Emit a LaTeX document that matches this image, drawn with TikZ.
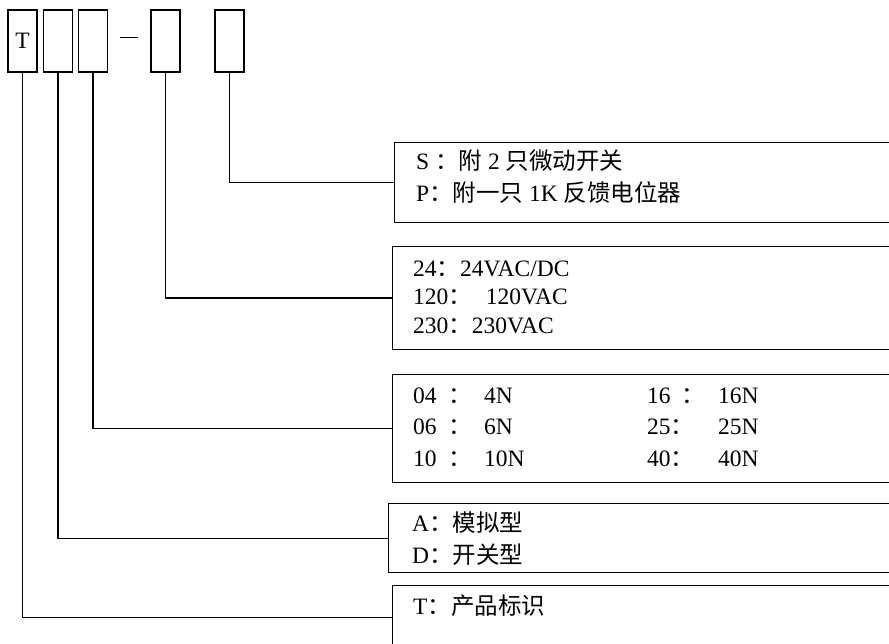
\documentclass[tikz,border=0pt]{standalone}
\usepackage{fontspec}
\setmainfont{Liberation Serif}
\newfontfamily\cjk{Noto Sans CJK SC}
\newcommand{\zh}[1]{{\cjk #1}}
\begin{document}
\begin{tikzpicture}[x=1pt,y=-1pt,
  code/.style={draw,line width=1.3pt,minimum width=29pt,minimum height=62pt,inner sep=0pt,font=\fontsize{23.5}{28}\selectfont},
  infobox/.style={draw,line width=1.3pt,anchor=north west,inner sep=0pt},
  link/.style={line width=1.3pt},
  txt/.style={anchor=base west,inner sep=0pt,font=\fontsize{23.5}{28}\selectfont}]
\clip (0,0) rectangle (889,644);
\fill[white] (0,0) rectangle (889,644);
% code boxes
\node[code] (b1) at (22.5,41) {T};
\node[code] (b2) at (58,41) {};
\node[code] (b3) at (93,41) {};
\node[code] (b4) at (165.5,41) {};
\node[code] (b5) at (229.5,41) {};
\coordinate (d1) at (120,38);
\coordinate (d2) at (138,38);
\draw[line width=1pt] (d1) -- (d2);
% info boxes
\node[infobox,minimum width=520pt,minimum height=80pt] (rS) at (394,142) {};
\node[infobox,minimum width=520pt,minimum height=103pt] (r24) at (392,246) {};
\node[infobox,minimum width=520pt,minimum height=108pt] (r04) at (392,374) {};
\node[infobox,minimum width=520pt,minimum height=69pt] (rA) at (388,503) {};
\node[infobox,minimum width=520pt,minimum height=63pt] (rT) at (392,585) {};
% connectors
\draw[link] (b5.south) |- (rS.west);
\draw[link] (b4.south) |- (r24.west);
\draw[link] (b3.south) |- (r04.west);
\draw[link] (b2.south) |- (rA.west);
\draw[link] (b1.south) |- (rT.west);
% texts
\node[txt] (s1) at (416,170) {S \zh{：附} 2 \zh{只微动开关}};
\node[txt] (s2) at (416,202) {P\zh{：附一只} 1K \zh{反馈电位器}};
\node[txt] (v1) at (413,277) {24\zh{：}24VAC/DC};
\node[txt] (v2) at (413,305) {120\zh{：}\hspace{14pt}120VAC};
\node[txt] (v3) at (413,334) {230\zh{：}230VAC};
\node[txt] (f1a) at (413,403) {04};
\node[txt] (f1b) at (448,403) {\zh{：}};
\node[txt] (f1c) at (484,403) {4N};
\node[txt] (f2a) at (413,434) {06};
\node[txt] (f2b) at (448,434) {\zh{：}};
\node[txt] (f2c) at (484,434) {6N};
\node[txt] (f3a) at (413,466) {10};
\node[txt] (f3b) at (448,466) {\zh{：}};
\node[txt] (f3c) at (484,466) {10N};
\node[txt] (g1a) at (647,403) {16};
\node[txt] (g1b) at (681,403) {\zh{：}};
\node[txt] (g1c) at (718,403) {16N};
\node[txt] (g2a) at (647,434) {25\zh{：}};
\node[txt] (g2c) at (718,434) {25N};
\node[txt] (g3a) at (647,466) {40\zh{：}};
\node[txt] (g3c) at (718,466) {40N};
\node[txt] (a1) at (412,531) {A\zh{：模拟型}};
\node[txt] (a2) at (412,563) {D\zh{：开关型}};
\node[txt] (t1) at (413,614) {T\zh{：产品标识}};
\end{tikzpicture}
\end{document}
